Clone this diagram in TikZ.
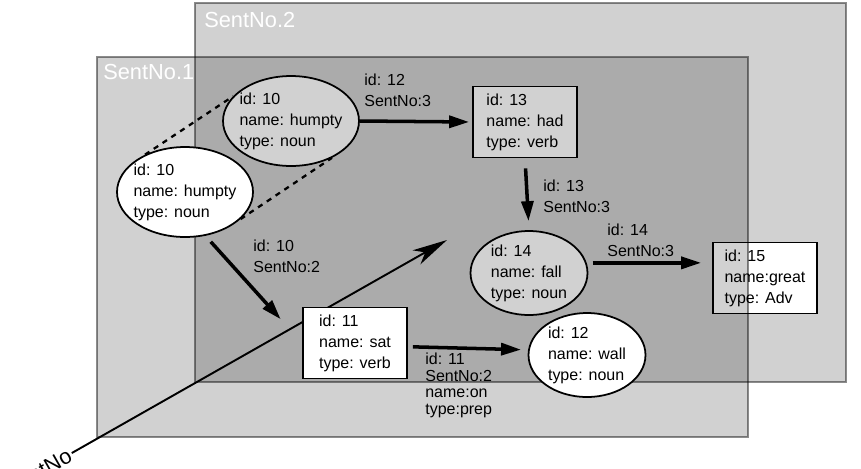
\documentclass[tikz,border=0pt]{standalone}
\usepackage{fontspec}
\setmainfont{Liberation Sans}
\usepackage{tikz}
\usetikzlibrary{shapes.geometric,arrows.meta}
\definecolor{sentshade}{RGB}{0,0,0}
\definecolor{sentedge}{RGB}{0,0,0}
\newcommand{\entfont}{\fontsize{9.1}{11.9}\selectfont}

\begin{document}
\begin{tikzpicture}[x=0.02cm, y=-0.02cm,
panel/.style={draw=sentedge, draw opacity=0.45, line width=1.6pt, fill=sentshade, fill opacity=0.18,
minimum width=13.02cm, minimum height=7.6cm, inner sep=0pt},
plabel/.style={anchor=north west, inner sep=0pt, text=white, font=\fontsize{12.4}{14}\selectfont},
ent/.style={ellipse, draw, line width=1pt, fill=white, align=left, inner xsep=-2pt, inner ysep=-1pt,
minimum width=2.34cm, minimum height=1.68cm, font=\entfont},
bigent/.style={ent, minimum width=2.72cm, minimum height=1.8cm},
wbox/.style={draw, line width=1pt, fill=white, align=left,
minimum width=2.08cm, minimum height=1.42cm, font=\entfont},
elabel/.style={anchor=north west, inner sep=0pt, align=left, font=\entfont},
arrow/.style={-{Triangle[length=4mm,width=2.4mm]}, line width=2pt},
link/.style={dashed, line width=1.3pt},
axis/.style={-{Stealth[length=7mm,width=3.2mm,inset=2mm]}, line width=1.1pt}
]
\useasboundingbox (0,0) rectangle (861,468);
\clip (0,0) rectangle (861,468);

% sentence 2
\node[panel, minimum height=7.58cm] (sent2) at (520.5,192.5) {};
\node[plabel] (sent2lbl) at (204,12) {SentNo.2};

\node[bigent] (humpty2) at (291,121) {id: 10\\name: humpty\\type: noun};
\node[wbox] (had) at (525,122) {id: 13\\name: had\\type: verb};
\node[ent] (fall) at (529,273) {id: 14\\name: fall\\type: noun};
\node[wbox] (great) at (765,278) {id: 15\\name:great\\type: Adv};

\draw[arrow, shorten >=0.6mm] (humpty2.east) -- (had.west);
\draw[arrow, shorten <=2mm, shorten >=1.8mm] (had.south) -- (fall.north);
\draw[arrow, shorten <=1.2mm, shorten >=2.2mm] (fall.10) -- (fall.10 -| great.west);

\node[elabel] (l12) at (364,74) {id: 12\\SentNo:3};
\node[elabel] (l13) at (543,180) {id: 13\\SentNo:3};
\node[elabel] (l14) at (607,224) {id: 14\\SentNo:3};

% sentence 1
\node[panel] (sent1) at (422.5,247) {};
\node[plabel] (sent1lbl) at (103,64) {SentNo.1};

\node[anchor=east, rotate=29.6, yshift=-2pt, inner sep=1pt, font=\fontsize{12.4}{14}\selectfont] (axislbl) at (70,450) {SentNo};
\coordinate (axistip) at (447,240);
\draw[axis] (axislbl.east) -- (axistip);

\node[bigent] (humpty1) at (185,192) {id: 10\\name: humpty\\type: noun};
\node[wbox] (sat) at (355,343) {id: 11\\name: sat\\type: verb};
\node[ent] (wall) at (587,355) {id: 12\\name: wall\\type: noun};

\draw[link] (humpty1.137) -- (humpty2.157);
\draw[link] (humpty1.-26) -- (humpty2.-42);

\draw[arrow, shorten <=1.6mm, shorten >=6.4mm] (humpty1.-65) -- (sat.west);
\draw[arrow, shorten <=1mm, shorten >=1.4mm] (sat.-4) -- (wall.175);

\node[elabel] (l10) at (253,240) {id: 10\\SentNo:2};
\node[elabel, font=\fontsize{9.1}{9.4}\selectfont] (l11) at (425,353) {id: 11\\SentNo:2\\name:on\\type:prep};

\end{tikzpicture}
\end{document}
